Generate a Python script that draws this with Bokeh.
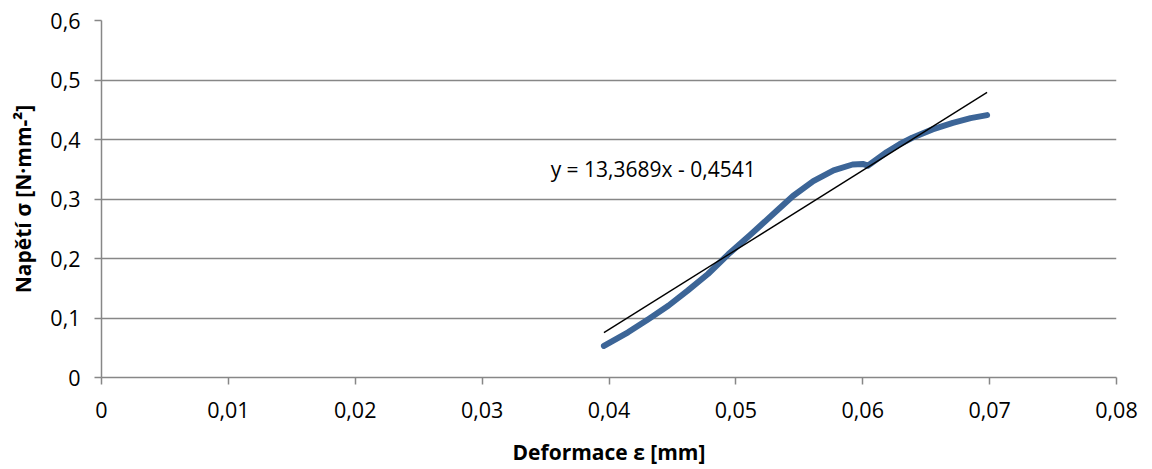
from bokeh.plotting import figure
from bokeh.models import Range1d, FixedTicker, CustomJSTickFormatter
from bokeh.core.properties import value
from bokeh.embed import file_html
from bokeh.resources import INLINE

# ---- data ----
x_deform = [0.0396, 0.0415, 0.0431, 0.0447, 0.0462, 0.0478, 0.0494, 0.0511,
            0.0529, 0.0545, 0.0561, 0.0577, 0.0592, 0.0600, 0.0604, 0.0610,
            0.0619, 0.0629, 0.0639, 0.0655, 0.0671, 0.0685, 0.0698]
y_stress = [0.053, 0.076, 0.098, 0.121, 0.146, 0.174, 0.207, 0.239,
            0.274, 0.305, 0.330, 0.348, 0.358, 0.359, 0.356, 0.365,
            0.379, 0.392, 0.403, 0.417, 0.428, 0.436, 0.441]
trend_slope = 13.3689
trend_intercept = -0.4541
equation_label = "y = 13,3689x - 0,4541"
x_ticks = [0, 0.01, 0.02, 0.03, 0.04, 0.05, 0.06, 0.07, 0.08]
y_ticks = [0, 0.1, 0.2, 0.3, 0.4, 0.5, 0.6]
x_title = "Deformace ε [mm]"
y_title = "Napětí σ [N·mm-²]"

FONT = "Open Sans"
GRID = "#878787"

p = figure(frame_width=1015, frame_height=357,
           x_range=Range1d(0, 0.08), y_range=Range1d(0, 0.6),
           output_backend="svg", toolbar_location=None,
           min_border_left=101, min_border_right=30,
           min_border_top=20, min_border_bottom=88)
p.outline_line_color = None
p.background_fill_color = "white"

fmt = CustomJSTickFormatter(code="""
var s = tick.toFixed(2).replace(/0+$/, '').replace(/\\.$/, '');
return s.replace('.', ',');
""")

for ax, ticks in ((p.xaxis[0], x_ticks), (p.yaxis[0], y_ticks)):
    ax.ticker = FixedTicker(ticks=ticks)
    ax.formatter = fmt
    ax.axis_line_color = GRID
    ax.axis_line_width = 1.5
    ax.major_tick_line_color = GRID
    ax.major_tick_line_width = 1.5
    ax.major_tick_out = 7
    ax.major_tick_in = 0
    ax.minor_tick_line_color = None
    ax.major_label_text_font = FONT
    ax.major_label_text_font_size = "21.5px"
    ax.major_label_text_color = "black"
    ax.axis_label_text_font = FONT
    ax.axis_label_text_font_size = "21px"
    ax.axis_label_text_font_style = "bold"
    ax.axis_label_text_color = "black"

p.xaxis.axis_label = x_title
p.yaxis.axis_label = y_title
p.xaxis.major_label_standoff = 17
p.yaxis.major_label_standoff = 14
p.xaxis.axis_label_standoff = 17
p.yaxis.axis_label_standoff = 10

p.xgrid.grid_line_color = None
p.ygrid.ticker = FixedTicker(ticks=y_ticks)
p.ygrid.grid_line_color = GRID
p.ygrid.grid_line_width = 1.5

# data curve
p.line(x_deform, y_stress, line_color="#3C6597", line_width=6,
       line_cap="round", line_join="round")

# linear trendline
tx = [min(x_deform), max(x_deform)]
ty = [trend_slope * v + trend_intercept for v in tx]
p.line(tx, ty, line_color="black", line_width=1.4)

p.text(x=[0.0354], y=[0.351], text=[equation_label],
       text_font=value(FONT), text_font_size="21px",
       text_align="left", text_baseline="middle", text_color="black")

open("out.html", "w").write(file_html(p, INLINE))
